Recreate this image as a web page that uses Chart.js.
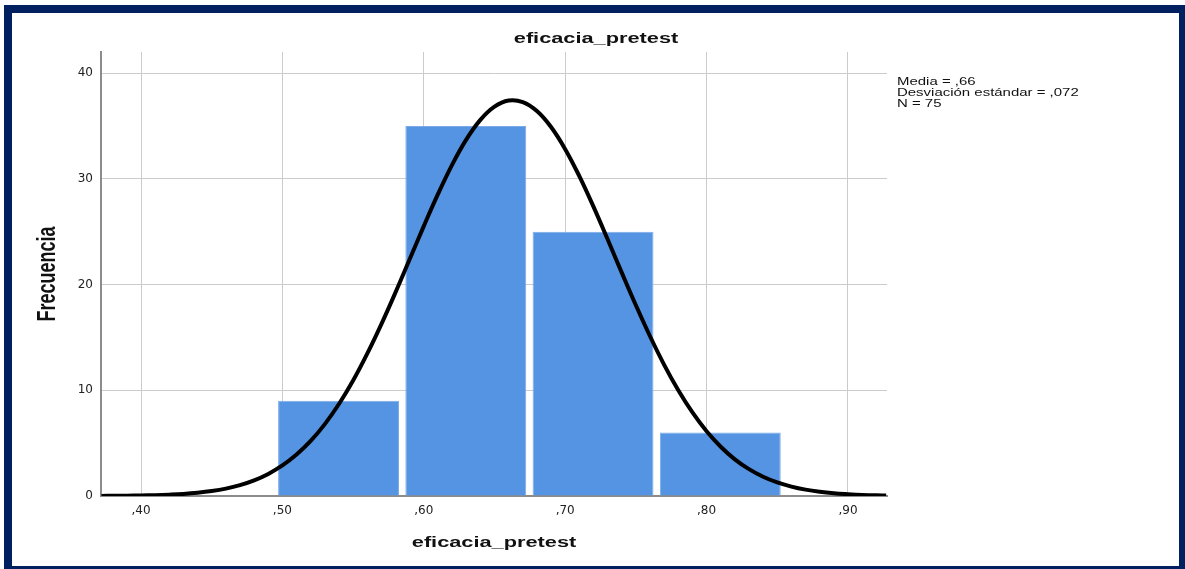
<!DOCTYPE html>
<html>
<head>
<meta charset="utf-8">
<script src="https://cdn.jsdelivr.net/npm/chart.js@4.4.1/dist/chart.umd.min.js"></script>
<style>
  html, body { margin: 0; padding: 0; background: #ffffff; }
  #wrap { position: relative; width: 1185px; height: 569px; overflow: hidden; }
  #c { position: absolute; left: 0; top: 0; }
  #frame {
    position: absolute; left: 4px; top: 5px; width: 1181px; height: 569px;
    box-sizing: border-box; border-style: solid; border-color: #002060;
    border-width: 8px 6px 8px 8px; pointer-events: none;
  }
</style>
</head>
<body>
<div id="wrap">
  <canvas id="c" width="1185" height="569"></canvas>
  <div id="frame"></div>
</div>
<script>
// Histogram of eficacia_pretest with its fitted normal curve
const chartTitle = 'eficacia_pretest';
const xAxisTitle = 'eficacia_pretest';
const yAxisTitle = 'Frecuencia';

// bins (centre of each bin) and their counts
const binCenters = [0.5397, 0.6297, 0.7197, 0.8097];
const frequencies = [9, 35, 25, 6];

// tick labels
const xTickValues = [0.40, 0.50, 0.60, 0.70, 0.80, 0.90];
const yTickValues = [0, 10, 20, 30, 40];

// normal curve, sampled every 0.01 along the axis
const curveX = [0.372, 0.38, 0.39, 0.40, 0.41, 0.42, 0.43, 0.44, 0.45, 0.46, 0.47, 0.48, 0.49,
                0.50, 0.51, 0.52, 0.53, 0.54, 0.55, 0.56, 0.57, 0.58, 0.59,
                0.60, 0.61, 0.62, 0.63, 0.64, 0.65, 0.66, 0.67, 0.68, 0.69,
                0.70, 0.71, 0.72, 0.73, 0.74, 0.75, 0.76, 0.77, 0.78, 0.79,
                0.80, 0.81, 0.82, 0.83, 0.84, 0.85, 0.86, 0.87, 0.88, 0.89,
                0.90, 0.91, 0.92, 0.927];
const curveY = [0.01, 0.02, 0.03, 0.05, 0.08, 0.13, 0.20, 0.31, 0.47, 0.70, 1.03, 1.48, 2.09,
                2.89, 3.92, 5.21, 6.80, 8.70, 10.92, 13.46, 16.26, 19.26, 22.39,
                25.53, 28.55, 31.33, 33.71, 35.58, 36.83, 37.41, 37.26, 36.41, 34.90,
                32.81, 30.26, 27.37, 24.28, 21.13, 18.04, 15.11, 12.41, 10.00, 7.90,
                6.12, 4.66, 3.47, 2.54, 1.82, 1.28, 0.89, 0.60, 0.40, 0.26,
                0.17, 0.10, 0.06, 0.05];

// summary statistics
const mean = 0.66;
const stdDev = 0.072;
const count = 75;

// axis ranges
const xMin = 0.3717, xMax = 0.9276;
const yMin = 0, yMax = 42;

// SPSS-style decimal: 0.66 -> ",66"
const fmt = (v, d) => v.toFixed(d).replace(/^0\./, ',').replace('.', ',');

const statLines = [
  'Media = ' + fmt(mean, 2),
  'Desviación estándar = ' + fmt(stdDev, 3),
  'N = ' + count
];

function drawText(ctx, text, x, y, font, align, sx, rotate) {
  ctx.save();
  ctx.translate(x, y);
  ctx.scale(sx, 1);
  if (rotate) ctx.rotate(-Math.PI / 2);
  ctx.font = font;
  ctx.textAlign = align;
  ctx.textBaseline = 'alphabetic';
  ctx.fillStyle = '#111111';
  ctx.fillText(text, 0, 0);
  ctx.restore();
}

const textPlugin = {
  id: 'histTexts',
  afterDraw(chart) {
    const ctx = chart.ctx;
    const area = chart.chartArea;
    const boldTitle = 'bold 15px "Liberation Sans", Arial, sans-serif';
    drawText(ctx, chartTitle, 596, 43, boldTitle, 'center', 1.45, false);
    drawText(ctx, xAxisTitle, (area.left + area.right) / 2, 547, boldTitle, 'center', 1.45, false);
    drawText(ctx, yAxisTitle, 55, 274, 'bold 18px "Liberation Sans", Arial, sans-serif', 'center', 1.4, true);
    const statFont = '11px "Liberation Sans", Arial, sans-serif';
    statLines.forEach((line, i) => {
      drawText(ctx, line, 897, 85 + i * 11, statFont, 'left', 1.36, false);
    });
  }
};

const tickFont = { family: '"DejaVu Sans", sans-serif', size: 12 };

new Chart(document.getElementById('c').getContext('2d'), {
  type: 'bar',
  data: {
    datasets: [
      {
        type: 'line',
        data: curveX.map((x, i) => ({ x: x, y: curveY[i] })),
        borderColor: '#000000',
        borderWidth: 4,
        pointRadius: 0,
        fill: false,
        tension: 0.4,
        order: 0
      },
      {
        type: 'bar',
        data: binCenters.map((x, i) => ({ x: x, y: frequencies[i] })),
        backgroundColor: '#5594e3',
        borderColor: '#7aaae8',
        borderWidth: 1,
        barPercentage: 0.95,
        categoryPercentage: 1,
        order: 1
      }
    ]
  },
  options: {
    responsive: false,
    animation: false,
    devicePixelRatio: 1,
    layout: { padding: { top: 52, left: 0, right: 298, bottom: 0 } },
    plugins: {
      legend: { display: false },
      tooltip: { enabled: false },
      title: { display: false }
    },
    scales: {
      x: {
        type: 'linear',
        min: xMin,
        max: xMax,
        offset: false,
        afterBuildTicks: s => { s.ticks = xTickValues.map(v => ({ value: v })); },
        afterFit: s => { s.height = 73; },
        grid: { color: '#cbcbcb', lineWidth: 1, drawTicks: false, offset: false },
        border: { color: '#8c8c8c', width: 2 },
        ticks: {
          padding: 8, color: '#222222', font: tickFont,
          maxRotation: 0, autoSkip: false,
          callback: v => fmt(v, 2)
        }
      },
      y: {
        type: 'linear',
        min: yMin,
        max: yMax,
        afterBuildTicks: s => { s.ticks = yTickValues.map(v => ({ value: v })); },
        afterFit: s => { s.width = 101; },
        grid: { color: '#cbcbcb', lineWidth: 1, drawTicks: false },
        border: { color: '#8c8c8c', width: 2 },
        ticks: {
          padding: 8, color: '#222222', font: tickFont,
          callback: v => String(v)
        }
      }
    }
  },
  plugins: [textPlugin]
});
</script>
</body>
</html>
